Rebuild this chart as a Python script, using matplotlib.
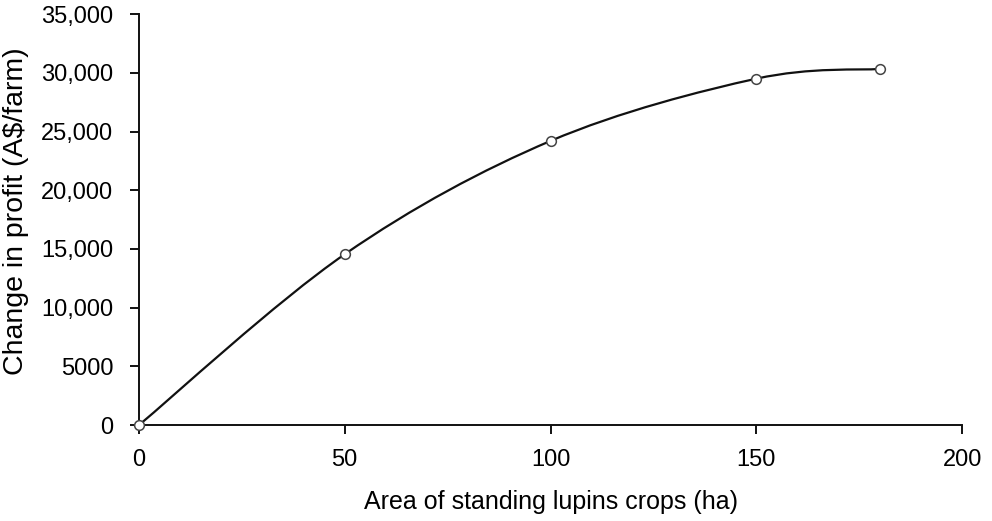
import matplotlib
matplotlib.use("Agg")
from matplotlib import pyplot as plt
from matplotlib.path import Path
from matplotlib.patches import PathPatch
from matplotlib.ticker import FuncFormatter

area_ha = [0, 50, 100, 150, 180]
profit_change = [0, 14550, 24200, 29500, 30330]

x_ticks = [0, 50, 100, 150, 200]
y_ticks = [0, 5000, 10000, 15000, 20000, 25000, 30000, 35000]

plt.rcParams["font.family"] = ["Liberation Sans", "DejaVu Sans"]
plt.rcParams["font.size"] = 17

fig = plt.figure(figsize = (9.92, 5.21), dpi = 100)
ax = fig.add_axes([0.140, 0.184, 0.830, 0.789])


def smooth_path(xs, ys):
    # excel-style smoothed line: cubic bezier segments with catmull-rom handles
    pts = list(zip(xs, ys))
    verts = [pts[0]]
    codes = [Path.MOVETO]
    n = len(pts)
    for i in range(n - 1):
        p0 = pts[max(i - 1, 0)]
        p1 = pts[i]
        p2 = pts[i + 1]
        p3 = pts[min(i + 2, n - 1)]
        c1 = (p1[0] + (p2[0] - p0[0]) / 6, p1[1] + (p2[1] - p0[1]) / 6)
        c2 = (p2[0] - (p3[0] - p1[0]) / 6, p2[1] - (p3[1] - p1[1]) / 6)
        verts += [c1, c2, p2]
        codes += [Path.CURVE4] * 3
    return Path(verts, codes)


ax.add_patch(PathPatch(smooth_path(area_ha, profit_change), facecolor = "none",
                       edgecolor = "#111111", linewidth = 1.6, zorder = 2, clip_on = False))
ax.plot(area_ha, profit_change, linestyle = "none", marker = "o", markersize = 7,
        markerfacecolor = "white", markeredgecolor = "#444444", markeredgewidth = 1.1,
        zorder = 3, clip_on = False)

ax.set_xlim(0, 200)
ax.set_ylim(0, 35000)
ax.set_xticks(x_ticks)
ax.set_yticks(y_ticks)


def fmt(v, pos):
    if v >= 10000:
        return "{:,.0f}".format(v)
    return "{:.0f}".format(v)


ax.yaxis.set_major_formatter(FuncFormatter(fmt))

for side in ["top", "right"]:
    ax.spines[side].set_visible(False)
for side in ["left", "bottom"]:
    ax.spines[side].set_linewidth(1.4)
    ax.spines[side].set_color("#111111")
ax.tick_params(direction = "out", length = 6.5, width = 1.4, colors = "#111111",
               labelcolor = "black")
ax.tick_params(axis = "y", pad = 12)
ax.tick_params(axis = "x", pad = 11)

ax.set_xlabel("Area of standing lupins crops (ha)", fontsize = 18, va = "center")
ax.xaxis.set_label_coords(0.5, -0.187)
ax.set_ylabel("Change in profit (A$/farm)", fontsize = 20.5, va = "center")
ax.yaxis.set_label_coords(-0.1495, 0.52)

fig.savefig("out.png", dpi = 100)
